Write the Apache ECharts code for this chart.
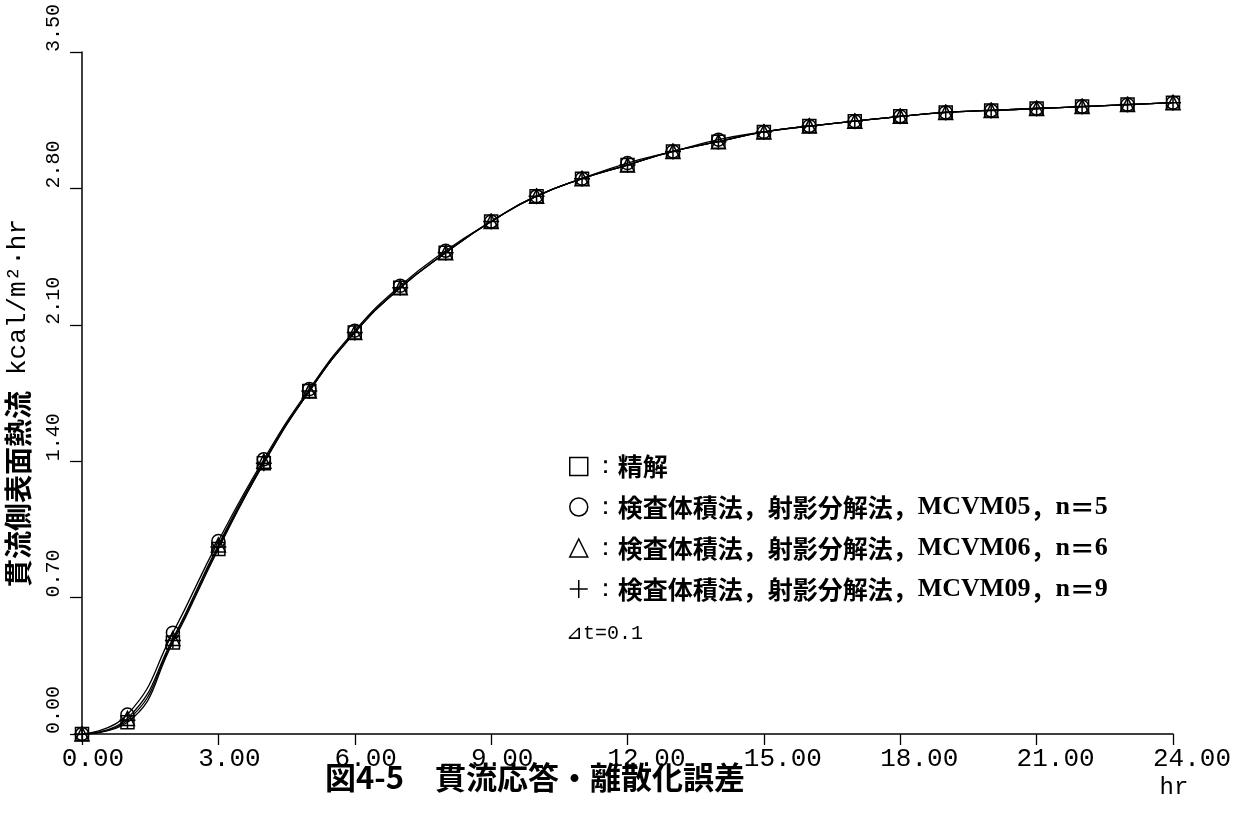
<!DOCTYPE html>
<html>
<head>
<meta charset="utf-8">
<script src="https://cdn.jsdelivr.net/npm/echarts@6/dist/echarts.min.js"></script>
<style>
html,body{margin:0;padding:0;background:#fff;}
#chart{width:1239px;height:814px;}
</style>
</head>
<body>
<div id="chart"></div>
<script>
// ---- data ----
const hours = [0,1,2,3,4,5,6,7,8,9,10,11,12,13,14,15,16,17,18,19,20,21,22,23,24];
const exactVals = [0,0.06,0.47,0.95,1.39,1.76,2.06,2.29,2.47,2.63,2.76,2.85,2.92,2.99,3.04,3.09,3.12,3.145,3.17,3.19,3.20,3.21,3.22,3.23,3.24];
const mcvm05Vals = [0,0.10,0.52,0.99,1.41,1.77,2.07,2.30,2.48,2.63,2.76,2.85,2.93,2.99,3.05,3.09,3.12,3.145,3.17,3.19,3.20,3.21,3.22,3.23,3.24];
const mcvm06Vals = [0,0.08,0.49,0.97,1.40,1.76,2.06,2.29,2.47,2.63,2.76,2.85,2.92,2.99,3.04,3.09,3.12,3.145,3.17,3.19,3.20,3.21,3.22,3.23,3.24];
const mcvm09Vals = [0,0.07,0.48,0.96,1.39,1.76,2.06,2.29,2.47,2.63,2.76,2.85,2.92,2.99,3.04,3.09,3.12,3.145,3.17,3.19,3.20,3.21,3.22,3.23,3.24];
const seriesNames = ['精解','検査体積法，射影分解法，MCVM05，n＝5','検査体積法，射影分解法，MCVM06，n＝6','検査体積法，射影分解法，MCVM09，n＝9'];
const xTickLabels = ['0.00','3.00','6.00','9.00','12.00','15.00','18.00','21.00','24.00'];
const yTickLabels = ['0.00','0.70','1.40','2.10','2.80','3.50'];
const titleText = '図4-5　貫流応答・離散化誤差';
const yAxisTitleJa = '貫流側表面熱流';
const yAxisTitleUnit = 'kcal/m²·hr';
const xAxisUnit = 'hr';
const noteText = '⊿t=0.1';

const PLUS = 'path://M10,0L10,20M0,10L20,10';
const symbols = ['rect','circle','triangle',PLUS];
const symbolSizes = [13,13,14,16];
const valueSets = [exactVals, mcvm05Vals, mcvm06Vals, mcvm09Vals];

const chart = echarts.init(document.getElementById('chart'), null, {renderer:'canvas'});

const series = valueSets.map((vals, i) => ({
  name: seriesNames[i],
  type: 'line',
  data: hours.map((h, k) => [h, vals[k]]),
  smooth: 0.5,
  symbol: symbols[i],
  symbolSize: symbolSizes[i],
  showAllSymbol: true,
  lineStyle: {color:'#000', width:1.3},
  itemStyle: {color:'transparent', borderColor:'#000', borderWidth:1.5},
  emphasis: {disabled:true},
  animation: false,
  z: 3 + i
}));

// legend text: Latin parts in a serif face like the reference
function legendLabel(name) {
  const parts = name.split(/([A-Za-z0-9]+)/);
  return '：' + parts.map(p => (/^[A-Za-z0-9]+$/.test(p) ? '{l|' + p + '}' : (p ? '{j|' + p + '}' : ''))).join('');
}

const option = {
  backgroundColor: '#fff',
  animation: false,
  grid: {left:82, right:66, top:52, bottom:80, containLabel:false, outerBoundsMode:'none'},
  xAxis: {
    type:'value', min:0, max:24, interval:3,
    axisLine:{show:true, onZero:false, lineStyle:{color:'#000', width:1.5}},
    axisTick:{show:true, inside:false, length:11, lineStyle:{color:'#000', width:1.3}},
    splitLine:{show:false},
    axisLabel:{
      margin:12,
      color:'#000',
      align:'center',
      formatter: (v) => {
        const s = xTickLabels[Math.round(v/3)];
        return s.length > 4 ? '{b|' + s + '}' : '{a|' + s + '}';
      },
      rich:{
        a:{fontFamily:'"Liberation Mono", monospace', fontSize:26, color:'#000', padding:[0,0,0,22]},
        b:{fontFamily:'"Liberation Mono", monospace', fontSize:26, color:'#000', padding:[0,0,0,38]}
      }
    }
  },
  yAxis: {
    type:'value', min:0, max:3.5, interval:0.7,
    axisLine:{show:true, onZero:false, lineStyle:{color:'#000', width:1.5}},
    axisTick:{show:true, inside:false, length:12, lineStyle:{color:'#000', width:1.3}},
    splitLine:{show:false},
    axisLabel:{
      rotate:90, margin:18, align:'left', verticalAlign:'bottom',
      color:'#000', fontFamily:'"Liberation Mono", monospace', fontSize:20,
      formatter:(v) => yTickLabels[Math.round(v/0.7)]
    },
    name: '{ja|' + yAxisTitleJa + '}{u|' + yAxisTitleUnit + '}',
    nameLocation:'middle', nameRotate:90, nameGap:50,
    nameTextStyle:{
      color:'#000',
      rich:{
        ja:{fontFamily:'"Noto Sans CJK JP"', fontWeight:'bold', fontSize:28, color:'#000'},
        u:{fontFamily:'"Liberation Mono", monospace', fontSize:26, color:'#000', padding:[0,20,0,16]}
      }
    }
  },
  legend: {
    orient:'vertical', left:564, top:449,
    itemWidth:18, itemHeight:18, itemGap:15,
    selectedMode:false,
    data: seriesNames.map((n, i) => ({name:n, icon: symbols[i]})),
    itemStyle:{color:'transparent', borderColor:'#000', borderWidth:1.5},
    formatter: legendLabel,
    textStyle:{
      fontSize:25, color:'#000',
      rich:{
        j:{fontFamily:'"Noto Sans CJK JP"', fontWeight:'bold', fontSize:25, color:'#000'},
        l:{fontFamily:'"Liberation Serif", serif', fontWeight:'bold', fontSize:26, color:'#000'}
      }
    }
  },
  graphic: [
    {type:'text', x:535, y:777, style:{text:titleText, font:'bold 31px "Noto Sans CJK JP"', fill:'#000', textAlign:'center', textVerticalAlign:'middle'}},
    {type:'text', x:1174, y:788, style:{text:xAxisUnit, font:'24px "Liberation Mono", monospace', fill:'#000', textAlign:'center', textVerticalAlign:'middle'}},
    {type:'text', x:566, y:634, style:{text:noteText, font:'20px "Liberation Mono", monospace', fill:'#000', textAlign:'left', textVerticalAlign:'middle'}}
  ],
  series: series
};
chart.setOption(option);
</script>
</body>
</html>
